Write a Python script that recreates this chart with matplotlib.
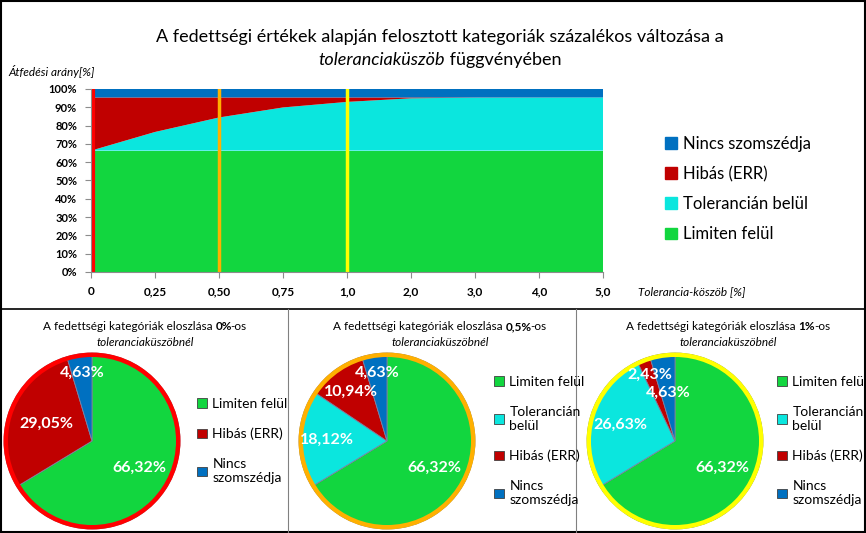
import matplotlib
matplotlib.use("Agg")
import matplotlib.pyplot as plt
from matplotlib.patches import Patch, Rectangle, Circle
from matplotlib.lines import Line2D
import numpy as np

plt.rcParams['font.family'] = ['Lato', 'DejaVu Sans']

# data
x_labels = ['0', '0,25', '0,50', '0,75', '1,0', '2,0', '3,0', '4,0', '5,0']
limiten = [66.32, 66.32, 66.32, 66.32, 66.32, 66.32, 66.32, 66.32, 66.32]
tolerancian = [0.0, 10.2, 18.12, 23.6, 26.63, 28.6, 28.95, 29.0, 29.05]
hibas = [29.05, 18.85, 10.94, 5.45, 2.43, 0.45, 0.1, 0.05, 0.0]
nincs = [4.63, 4.63, 4.63, 4.63, 4.63, 4.63, 4.63, 4.63, 4.63]
y_ticks = [0, 10, 20, 30, 40, 50, 60, 70, 80, 90, 100]

pie0_labels = ['Limiten felül', 'Hibás (ERR)', 'Nincs\nszomszédja']
pie0_vals = [66.32, 29.05, 4.63]
pie05_labels = ['Limiten felül', 'Tolerancián\nbelül', 'Hibás (ERR)', 'Nincs\nszomszédja']
pie05_vals = [66.32, 18.12, 10.94, 4.63]
pie1_labels = ['Limiten felül', 'Tolerancián\nbelül', 'Hibás (ERR)', 'Nincs\nszomszédja']
pie1_vals = [66.32, 26.63, 2.43, 4.63]

GREEN = '#12D63F'
CYAN = '#0BE6DE'
RED = '#C00000'
BLUE = '#0070C0'

W, H = 866, 533
fig = plt.figure(figsize=(W / 100, H / 100), dpi=100)
fig.patch.set_facecolor('white')


def fx(px):
    return px / W


def fy(py):
    return 1 - py / H


# ---- top area chart ----
ax = fig.add_axes([fx(91), fy(272), 512 / W, 183 / H])
xs = np.arange(len(x_labels))
ax.stackplot(xs, limiten, tolerancian, hibas, nincs,
             colors=[GREEN, CYAN, RED, BLUE], linewidth=0)
ax.set_xlim(0, len(x_labels) - 1)
ax.set_ylim(0, 100)
ax.set_xticks(xs)
ax.set_xticklabels(x_labels, fontsize=8.5, fontweight='bold')
ax.set_yticks(y_ticks)
ax.set_yticklabels([f'{v}%' for v in y_ticks], fontsize=8, fontweight='bold')
for s in ['top', 'right']:
    ax.spines[s].set_visible(False)
ax.spines['bottom'].set_color('#8c8c8c')
ax.spines['left'].set_color('#8c8c8c')
ax.tick_params(axis='both', colors='#8c8c8c', labelcolor='black', length=4, pad=6)
ax.axvline(0.03, color='#FF0000', lw=3)
ax.axvline(2, color='#FFB000', lw=2.5)
ax.axvline(4, color='#FFFF00', lw=2.5)

fig.text(fx(440), fy(37), 'A fedettségi értékek alapján felosztott kategoriák százalékos változása a',
         ha='center', va='center', fontsize=13)
fig.text(fx(8), fy(72), 'Átfedési arány[%]', ha='left', va='center', fontsize=8.5, style='italic')
fig.text(fx(638), fy(292), 'Tolerancia-köszöb [%]', ha='left', va='center', fontsize=8.5, style='italic')

handles = [Patch(color=BLUE), Patch(color=RED), Patch(color=CYAN), Patch(color=GREEN)]
fig.legend(handles, ['Nincs szomszédja', 'Hibás (ERR)', 'Tolerancián belül', 'Limiten felül'],
           loc='center left', bbox_to_anchor=(fx(665), fy(189)), frameon=False,
           borderpad=0, borderaxespad=0,
           fontsize=12, handlelength=0.7, handleheight=0.7, handletextpad=0.4,
           labelspacing=0.85)

renderer = fig.canvas.get_renderer()


def seq_text(xc, yc, parts, size):
    # parts: list of (text, weight, style, kern_px); laid out left to right, centred on xc
    objs = []
    for txt, w, st, k in parts:
        objs.append(fig.text(0, fy(yc), txt, fontsize=size, fontweight=w, style=st,
                             ha='left', va='center'))
    widths = [o.get_window_extent(renderer).width + p[3] for o, p in zip(objs, parts)]
    x0 = xc - sum(widths) / 2
    for o, w in zip(objs, widths):
        o.set_x(fx(x0))
        x0 += w


seq_text(440, 60, [('toleranciaküszöb', 'normal', 'italic', 0),
                   (' függvényében', 'normal', 'normal', 0)], 13)


# ---- pies ----
def draw_pie(cx, vals, colors, labels, ring, pct_dist, title_bold, leg_x):
    r_px = 88
    pax = fig.add_axes([fx(cx - r_px - 4), fy(441 + r_px + 4), (2 * r_px + 8) / W, (2 * r_px + 8) / H])
    wedges, _ = pax.pie(vals, colors=colors, startangle=90, counterclock=False, radius=1.0,
                        wedgeprops=dict(linewidth=0.6, edgecolor='#8080a0'))
    pax.add_patch(Circle((0, 0), 0.98, fill=False, edgecolor=ring, lw=3.2))
    lim = (r_px + 4) / r_px
    pax.set_xlim(-lim, lim)
    pax.set_ylim(-lim, lim)
    pax.set_aspect('equal')
    pax.axis('off')
    for w, v, d in zip(wedges, vals, pct_dist):
        ang = np.deg2rad((w.theta1 + w.theta2) / 2)
        pax.text(d * np.cos(ang), d * np.sin(ang), f'{v:.2f}%'.replace('.', ','),
                 ha='center', va='center', color='white', fontsize=11.5, fontweight='bold')
    tx = cx + 53
    seq_text(tx, 327, [('A fedettségi kategóriák eloszlása ', 'normal', 'normal', 0),
                       (title_bold, 'bold', 'normal', -1.5), ('-os', 'normal', 'normal', 0)], 8.5)
    fig.text(fx(tx), fy(343), 'toleranciaküszöbnél', ha='center', va='center',
             fontsize=8.5, style='italic')
    hs = [Patch(facecolor=c, edgecolor='#404040', lw=0.6) for c in colors]
    fig.legend(hs, labels, loc='center left', bbox_to_anchor=(fx(leg_x), fy(441)),
               frameon=False, borderpad=0, borderaxespad=0, fontsize=10,
               handlelength=0.7, handleheight=0.7, handletextpad=0.4, labelspacing=1.3)


draw_pie(92, pie0_vals, [GREEN, RED, BLUE], pie0_labels, '#FF0000', [0.62, 0.55, 0.78], '0%', 197)
draw_pie(387, pie05_vals, [GREEN, CYAN, RED, BLUE], pie05_labels, '#FFB000',
         [0.62, 0.68, 0.7, 0.78], '0,5%', 494)
draw_pie(675, pie1_vals, [GREEN, CYAN, RED, BLUE], pie1_labels, '#FFFF00',
         [0.62, 0.65, 0.8, 0.55], '1%', 777)

# ---- frame lines ----
fig.add_artist(Rectangle((0.001, 0.001), 0.998, 0.998, transform=fig.transFigure,
                         fill=False, edgecolor='black', lw=1.5))
fig.add_artist(Line2D([0, 1], [fy(309), fy(309)], transform=fig.transFigure, color='black', lw=1.2))
fig.add_artist(Line2D([fx(288), fx(288)], [fy(309), 0], transform=fig.transFigure, color='#808080', lw=0.8))
fig.add_artist(Line2D([fx(576), fx(576)], [fy(309), 0], transform=fig.transFigure, color='#808080', lw=0.8))

fig.savefig('out.png', dpi=100)
